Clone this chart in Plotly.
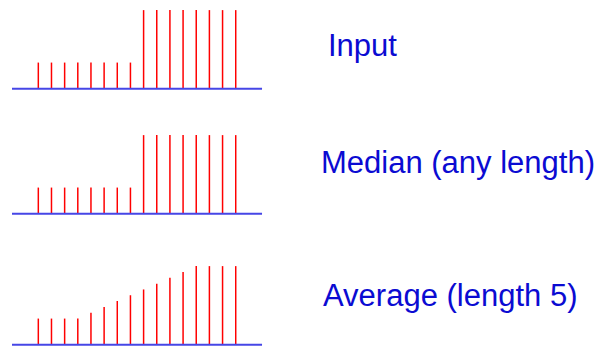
import plotly.graph_objects as go

# Sample positions of the signal (zero padding at both ends)
n_samples = 20
stem_index = list(range(2, 18))

# Signal values for each row
input_values = [1, 1, 1, 1, 1, 1, 1, 1, 3, 3, 3, 3, 3, 3, 3, 3]
median_values = [1, 1, 1, 1, 1, 1, 1, 1, 3, 3, 3, 3, 3, 3, 3, 3]
average_values = [1, 1, 1, 1, 1.22, 1.44, 1.67, 1.89, 2.11, 2.33, 2.56, 2.78, 3, 3, 3, 3]

row_labels = ["Input", "Median (any length)", "Average (length 5)"]

W, H = 600, 346
unit_px = 26.23           # pixels per signal unit
x_step_px = 13.16         # pixels per sample
x_left_px = 12.0          # pixel column of sample 0
baselines_px = [88.8, 213.8, 344.8]
label_left_px = [325.5, 318.5, 320.5]
label_mid_px = [45.5, 162.5, 295.0]

RED = "#ff0000"
BLUE_LINE = "#4646e6"
BLUE_TEXT = "#0b0bd2"

fig = go.Figure()

rows = [input_values, median_values, average_values]
yaxis_names = ["y", "y2", "y3"]
layout_axes = {}
span = H / unit_px
for r, (vals, yname) in enumerate(zip(rows, yaxis_names)):
    xs, ys = [], []
    for i, v in zip(stem_index, vals):
        xs += [i, i, None]
        ys += [0, v, None]
    fig.add_trace(go.Scatter(x=xs, y=ys, mode="lines", yaxis=yname,
                             line=dict(color=RED, width=1.5),
                             hoverinfo="skip", showlegend=False))
    fig.add_trace(go.Scatter(x=[0, n_samples - 1], y=[0, 0], mode="lines", yaxis=yname,
                             line=dict(color=BLUE_LINE, width=2),
                             hoverinfo="skip", showlegend=False))
    r0 = -(H - baselines_px[r]) / unit_px
    key = "yaxis" if r == 0 else f"yaxis{r + 1}"
    ax = dict(range=[r0, r0 + span], visible=False, fixedrange=True)
    if r > 0:
        ax["overlaying"] = "y"
    layout_axes[key] = ax

x0 = -x_left_px / x_step_px
x1 = x0 + W / x_step_px

annotations = []
for lbl, lx, my in zip(row_labels, label_left_px, label_mid_px):
    annotations.append(dict(text=lbl, xref="paper", yref="paper",
                            x=lx / W, y=1 - my / H, xanchor="left", yanchor="middle",
                            showarrow=False,
                            font=dict(family="Liberation Sans, Arial, sans-serif",
                                      size=31, color=BLUE_TEXT)))

fig.update_layout(
    width=W, height=H,
    margin=dict(l=0, r=0, t=0, b=0),
    paper_bgcolor="white", plot_bgcolor="white",
    xaxis=dict(range=[x0, x1], visible=False, fixedrange=True),
    annotations=annotations,
    **layout_axes,
)

fig.write_html("out.html", config={"displayModeBar": False})
